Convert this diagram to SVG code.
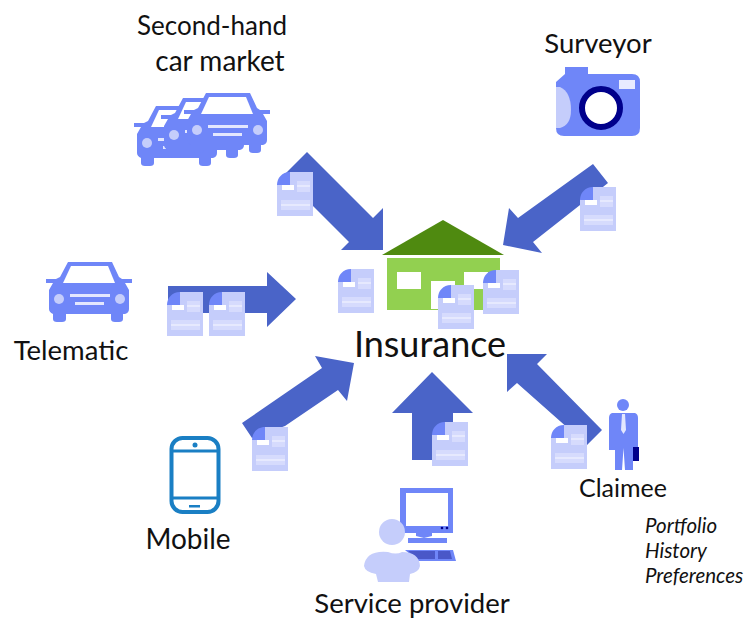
<svg xmlns="http://www.w3.org/2000/svg" width="745" height="619" viewBox="0 0 745 619">
<style>
text{font-family:"Lato","Open Sans",sans-serif;fill:#111}
.l{font-size:27.500px;text-anchor:middle}
.i{font-size:20.500px;font-style:italic}
.a{fill:#4a64c8}
.c{fill:#6f86f8}
.p{fill:#c5cdfb}
</style>
<defs>
<g id="doc">
<path class="p" d="M13 0H36V44H0V13Z"/>
<path class="c" d="M13 0C5 0 0 6 0 13H13Z"/>
<rect x="5" y="13" width="12" height="5" fill="#fff"/>
<path fill="#d6dbfd" d="M20 9H33V20H20ZM4 28H33V38H4Z"/>
<path fill="#e6e9fe" d="M20 13H33V15H20ZM4 32H33V34H4Z"/>
</g>
<g id="car">
<path class="c" d="M22 0H66L73 15L76 17H86V21H79L83 28V47Q83 51 79 52H77V57Q77 60 73 60H69Q65 60 65 57V52H20V57Q20 60 16 60H11Q7 60 7 57V52Q3 50 3 47V28L7 21H0V17H10L14 15Z"/>
<path fill="#fff" d="M25 4H62L69 21H17Z"/>
<circle cx="13" cy="37" r="5" fill="#c5cdfb"/>
<circle cx="74" cy="37" r="5" fill="#c5cdfb"/>
<path fill="#e3e7fe" d="M24 32H64V35H24ZM29 40H58V43H29Z"/>
</g>
</defs>
<g id="connectors">
<polygon class="a" points="307,152 373,218 383,208 383,250 341,250 349,242 283,176"/>
<polygon class="a" points="593,164 608,183 533,242 542,253 503,245 509,208 518,218"/>
<polygon class="a" points="168,286 267,286 267,272 296,299 267,327 267,313 168,313"/>
<polygon class="a" points="242,423 322,368 315,356 354,363 347,401 338,390 285,426 252,438"/>
<polygon class="a" points="412,460 412,413 392,413 432,372 473,413 453,413 453,460"/>
<polygon class="a" points="602,430 587,445 517,383 507,392 507,354 547,354 537,364"/>
</g>
<g id="second-hand-car-market">
<use href="#car" x="134" y="106"/>
<use href="#car" x="161" y="98"/>
<use href="#car" x="184" y="93"/>
<text class="l" style="font-size:26px" x="212" y="35">Second-hand</text>
<text class="l" style="font-size:28px" x="220" y="71">car market</text>
<use href="#doc" x="277" y="172"/>
</g>
<g id="surveyor">
<path class="c" d="M565 67H588V74H632Q640 74 640 82V128Q640 136 632 136H564Q556 136 556 128V82L565 74Z"/>
<path class="p" d="M556 87H560Q571 92 571 110Q571 125 560 128H556Z"/>
<circle cx="601" cy="108" r="19" fill="#fff" stroke="#00008b" stroke-width="6"/>
<rect x="619" y="80" width="16" height="9" fill="#e8ebff"/>
<text class="l" x="598" y="53">Surveyor</text>
<use href="#doc" x="580" y="187"/>
</g>
<g id="insurance">
<polygon points="382,255 443,220 504,255" fill="#4f8a10"/>
<rect x="387" y="258" width="113" height="52" fill="#92d050"/>
<rect x="397" y="272" width="24" height="17" fill="#fff"/>
<rect x="431" y="281" width="24" height="28" fill="#fff"/>
<rect x="464" y="272" width="24" height="17" fill="#fff"/>
<use href="#doc" x="338" y="269"/>
<use href="#doc" x="438" y="285"/>
<use href="#doc" x="483" y="270"/>
<text x="430" y="357" text-anchor="middle" font-size="36">Insurance</text>
</g>
<g id="telematic">
<use href="#car" x="46" y="262"/>
<text class="l" x="71" y="360">Telematic</text>
<use href="#doc" x="167" y="292"/>
<use href="#doc" x="209" y="292"/>
</g>
<g id="mobile">
<rect x="171.500" y="438" width="47" height="74" rx="11" fill="#fff" stroke="#1a7fc4" stroke-width="4"/>
<path d="M172 451H218M172 498H218" stroke="#1a7fc4" stroke-width="3"/>
<circle cx="195" cy="445" r="2.500" fill="#1a7fc4"/>
<rect x="189" y="505" width="11" height="2.500" fill="#1a7fc4"/>
<text class="l" style="font-size:28px" x="188" y="549">Mobile</text>
<use href="#doc" x="252" y="427"/>
</g>
<g id="service-provider">
<path class="c" d="M400 488H453V533H432V536L424 538L416 536V533H400Z"/>
<rect x="406" y="493" width="42" height="33" fill="#fff"/>
<circle cx="442" cy="528" r="1.300" fill="#00008b"/>
<circle cx="447" cy="528" r="1.300" fill="#00008b"/>
<rect x="408" y="538" width="39" height="5" class="c"/>
<path class="c" d="M405 550H453L456 561H418Z"/>
<path fill="#4a58c8" d="M408 551H435V559H418ZM438 551H450L452 559H438Z"/>
<circle cx="392" cy="532" r="13" fill="#c5cdfb"/>
<path class="p" d="M364 566Q366 550 388 552Q396 555 402 552Q419 552 420 566Q419 572 410 574L409 582H378L376 574Q365 572 364 566Z"/>
<text class="l" x="412" y="613">Service provider</text>
<use href="#doc" x="432" y="422"/>
</g>
<g id="claimee">
<circle cx="623" cy="405" r="6" class="c"/>
<path class="c" d="M612 413H635Q638 414 638 418V450H633V470H625L623.500 448L622 470H615V450H609V418Q609 414 612 413Z"/>
<path fill="#e3e7fe" d="M622 414H625L626 430L623.500 434L621 430Z"/>
<rect x="633" y="447" width="6" height="14" fill="#00008b"/>
<text class="l" style="font-size:25px" x="623" y="497">Claimee</text>
<text class="i" x="645" y="533">Portfolio</text>
<text class="i" x="645" y="558">History</text>
<text class="i" x="645" y="583">Preferences</text>
<use href="#doc" x="551" y="425"/>
</g>
</svg>
